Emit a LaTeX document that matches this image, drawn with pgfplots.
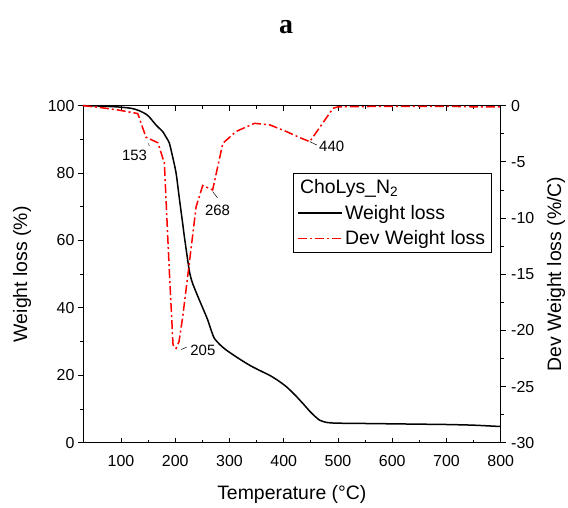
\documentclass[border=0pt]{standalone}
\usepackage{pgfplots}
\pgfplotsset{compat=1.18}
\usepackage{fontspec}
\setmainfont{Liberation Sans}
\newfontfamily\titlefont{Liberation Serif}
\begin{document}
\begin{tikzpicture}
\useasboundingbox (-83bp,-65.3bp) rectangle (485bp,442.7bp);
\pgfplotsset{
  common/.style={
    width=417.7bp, height=337bp, scale only axis,
    at={(0,0)}, anchor=south west,
    xmin=30, xmax=800,
    /pgf/number format/assume math mode=true,
    tick label style={font=\fontsize{16}{16}\selectfont},
    major tick length=5bp, minor tick length=3bp,
    every tick/.style={black, line width=0.8bp},
    axis line style={line width=0.9bp},
    clip=false,
  }
}
% x axis (inward ticks, top and bottom)
\begin{axis}[common, ymin=0, ymax=100, hide y axis, tick align=inside,
  xtick pos=both, xtick={100,200,...,800}, minor x tick num=1,
  xticklabel style={yshift=-9bp},
  xlabel={Temperature (°C)},
  every axis x label/.style={at={([yshift=-52bp]rel axis cs:0.5,0)}, anchor=center,
    font=\fontsize{19.5}{20}\selectfont}]
\end{axis}
% left axis: weight loss
\begin{axis}[common, ymin=0, ymax=100, hide x axis, tick align=outside,
  ytick pos=left, ytick={0,20,...,100}, minor y tick num=1,
  ylabel={Weight loss (\%)},
  every axis y label/.style={at={([xshift=-61bp]rel axis cs:0,0.5)}, rotate=90, anchor=center,
    font=\fontsize{19.5}{20}\selectfont}]
\addplot[black, line width=1.5bp, smooth, tension=0.4] coordinates {
(30,100) (60,99.9) (97,99.6) (120,99.2) (134,98.5) (145,97.6) (152,96.7)
(165,94.2) (177,92.3) (183,90.7) (189,89) (195,85) (201.6,80) (208,72)
(213.8,65) (217,61) (226,51) (232,47.3) (244.6,42.3) (252,39.5) (260,36.4)
(266,33.5) (272,31) (283,29) (294,27.5) (315,25.2) (337,23) (355,21.5)
(374,20) (390,18.4) (405,16.6) (420,14.3) (435,11.7) (450,9) (466,6.7)
(480,6) (497,5.8) (550,5.7) (600,5.6) (650,5.5) (700,5.4) (750,5.2) (800,4.8)
};
\end{axis}
% right axis: derivative
\begin{axis}[common, ymin=-30, ymax=0, hide x axis, tick align=outside,
  ytick pos=right, ytick={-30,-25,...,0}, minor y tick num=1,
  yticklabel style={xshift=2bp},
  ylabel={Dev Weight loss (\%/C)},
  every axis y label/.style={at={([xshift=55.3bp]rel axis cs:1,0.5)}, rotate=90, anchor=center,
    font=\fontsize{19.5}{20}\selectfont},
  legend style={at={(0.502,0.801)}, anchor=north west, draw=black, line width=0.8bp,
    font=\fontsize{19.5}{21}\selectfont, inner sep=4.5bp, row sep=6bp},
  legend cell align=left,
  legend image code/.code={\draw[#1] (0bp,0bp) -- (44bp,0bp);}]
\addlegendimage{empty legend}
\addlegendentry{\hspace{-45bp}ChoLys\_N\textsubscript{2}}
\addlegendimage{black, line width=1.5bp}
\addlegendentry{Weight loss}
\addplot[red, line width=1.5bp, dash pattern=on 9bp off 3bp on 2bp off 3bp] coordinates {
(30,0) (60,-0.15) (97,-0.4) (131,-0.7) (146,-2.8) (168,-3.3) (180,-5.1)
(189,-14.6) (196,-21.3) (201.6,-21.6) (207,-21.0) (213.8,-18.8) (226,-14)
(238.5,-9) (250.7,-7.1) (269,-7.5) (287.7,-3.35) (312,-2.3) (346,-1.57)
(374,-1.7) (405,-2.3) (430,-2.85) (448,-3.2) (491,-0.23) (500,-0.1)
(600,-0.05) (700,-0.05) (750,-0.1) (800,-0.1)
};
\addlegendentry{ Dev Weight loss}
\begin{scope}[font=\fontsize{15}{15}\selectfont]
\node at (axis cs:125,-4.4) {153};
\draw[line width=0.5bp] (axis cs:151,-3.35) -- (axis cs:152,-3.6);
\node at (axis cs:278,-9.3) {268};
\draw[line width=0.5bp] (axis cs:269,-7.65) -- (axis cs:278,-8.2);
\node at (axis cs:251,-21.75) {205};
\draw[line width=0.5bp] (axis cs:211,-21.7) -- (axis cs:221,-21.5);
\node at (axis cs:488.4,-3.6) {440};
\draw[line width=0.5bp] (axis cs:448,-3.2) -- (axis cs:461,-3.5);
\end{scope}
\end{axis}
\node[font=\titlefont\bfseries\fontsize{28}{28}\selectfont] at (203bp,415.7bp) {a};
\end{tikzpicture}
\end{document}
